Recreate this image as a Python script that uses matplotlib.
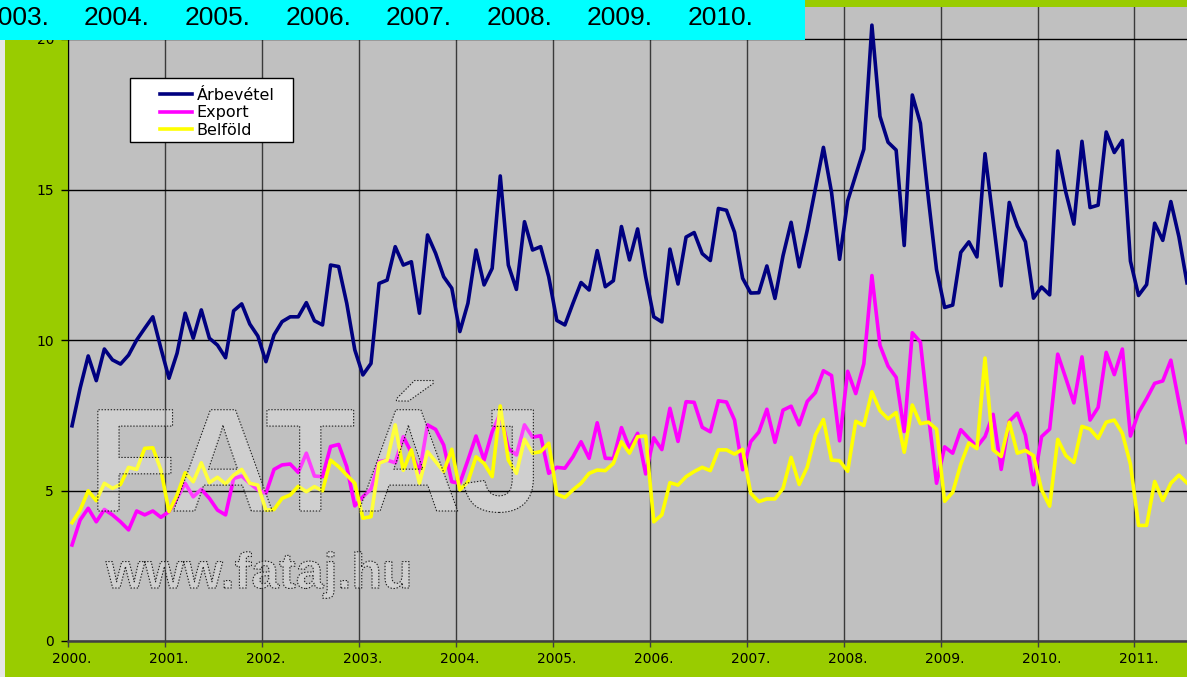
import matplotlib
matplotlib.use('Agg')
import matplotlib.pyplot as plt
from matplotlib import patheffects
from matplotlib.patches import Rectangle
from matplotlib.ticker import FixedLocator, FixedFormatter, NullFormatter
import numpy as np

# Havi adatok, 2000. január - 2011. július (milliárd Ft)
arbevetel = [7.15, 8.40, 9.47, 8.65, 9.70, 9.34, 9.20, 9.50, 10.00, 10.39, 10.77, 9.72,
             8.73, 9.56, 10.89, 10.06, 11.00, 10.06, 9.83, 9.41, 10.97, 11.20, 10.53, 10.13,
             9.28, 10.17, 10.61, 10.77, 10.77, 11.24, 10.64, 10.50, 12.49, 12.44, 11.22, 9.67,
             8.84, 9.22, 11.88, 11.99, 13.10, 12.49, 12.60, 10.89, 13.49, 12.88, 12.10, 11.72,
             10.28, 11.22, 12.99, 11.83, 12.38, 15.45, 12.49, 11.68, 13.93, 12.99, 13.10, 12.10,
             10.65, 10.50, 11.22, 11.91, 11.66, 12.97, 11.77, 11.97, 13.77, 12.66, 13.69, 12.10,
             10.77, 10.60, 13.02, 11.86, 13.42, 13.57, 12.87, 12.64, 14.37, 14.31, 13.58, 12.05,
             11.56, 11.57, 12.46, 11.38, 12.80, 13.91, 12.43, 13.65, 15.03, 16.40, 14.91, 12.68,
             14.62, 15.48, 16.34, 20.46, 17.43, 16.57, 16.31, 13.14, 18.14, 17.20, 14.68, 12.34,
             11.08, 11.16, 12.91, 13.26, 12.76, 16.19, 14.00, 11.80, 14.57, 13.79, 13.26, 11.39,
             11.76, 11.50, 16.28, 14.91, 13.85, 16.60, 14.40, 14.48, 16.91, 16.23, 16.63, 12.62,
             11.48, 11.84, 13.88, 13.31, 14.60, 13.43, 11.90]

export = [3.19, 4.02, 4.41, 3.96, 4.37, 4.19, 3.96, 3.69, 4.32, 4.19, 4.32, 4.11,
          4.30, 4.74, 5.24, 4.79, 5.04, 4.74, 4.35, 4.19, 5.40, 5.48, 5.24, 5.02,
          4.91, 5.70, 5.85, 5.88, 5.60, 6.24, 5.48, 5.46, 6.46, 6.53, 5.79, 4.49,
          4.79, 5.05, 5.96, 6.01, 5.92, 6.79, 6.26, 5.60, 7.18, 7.03, 6.51, 5.29,
          5.24, 6.01, 6.81, 6.01, 6.95, 7.56, 6.40, 6.18, 7.18, 6.77, 6.82, 5.57,
          5.77, 5.74, 6.12, 6.62, 6.07, 7.25, 6.07, 6.06, 7.09, 6.40, 6.90, 5.55,
          6.75, 6.36, 7.73, 6.63, 7.95, 7.93, 7.10, 6.95, 7.98, 7.94, 7.34, 5.69,
          6.62, 6.94, 7.70, 6.60, 7.67, 7.80, 7.18, 7.96, 8.25, 8.98, 8.82, 6.65,
          8.96, 8.22, 9.21, 12.14, 9.82, 9.13, 8.76, 6.96, 10.24, 9.93, 7.50, 5.24,
          6.45, 6.24, 7.02, 6.73, 6.45, 6.79, 7.53, 5.70, 7.30, 7.57, 6.84, 5.19,
          6.79, 7.04, 9.53, 8.73, 7.91, 9.44, 7.34, 7.76, 9.59, 8.85, 9.70, 6.81,
          7.59, 8.05, 8.56, 8.64, 9.33, 7.93, 6.60]

belfold = [3.93, 4.35, 4.99, 4.66, 5.24, 5.07, 5.20, 5.77, 5.70, 6.40, 6.42, 5.68,
           4.30, 4.85, 5.59, 5.29, 5.92, 5.26, 5.44, 5.22, 5.51, 5.70, 5.24, 5.18,
           4.35, 4.37, 4.74, 4.85, 5.14, 4.96, 5.13, 4.99, 6.01, 5.79, 5.51, 5.24,
           4.08, 4.13, 5.91, 6.01, 7.18, 5.67, 6.35, 5.24, 6.29, 5.96, 5.63, 6.37,
           5.02, 5.29, 6.12, 5.90, 5.46, 7.81, 6.01, 5.57, 6.70, 6.24, 6.29, 6.57,
           4.88, 4.77, 5.02, 5.24, 5.57, 5.68, 5.66, 5.90, 6.62, 6.24, 6.79, 6.81,
           3.96, 4.19, 5.26, 5.18, 5.46, 5.63, 5.77, 5.66, 6.35, 6.35, 6.21, 6.37,
           4.91, 4.63, 4.72, 4.72, 5.07, 6.10, 5.20, 5.78, 6.84, 7.36, 6.01, 5.99,
           5.64, 7.30, 7.16, 8.28, 7.65, 7.38, 7.59, 6.27, 7.84, 7.22, 7.27, 7.04,
           4.64, 4.94, 5.87, 6.58, 6.39, 9.40, 6.35, 6.13, 7.27, 6.24, 6.33, 6.16,
           5.02, 4.48, 6.70, 6.16, 5.93, 7.13, 7.04, 6.73, 7.27, 7.34, 6.90, 5.87,
           3.84, 3.84, 5.30, 4.67, 5.24, 5.51, 5.25]

evek = ['2000.', '2001.', '2002.', '2003.', '2004.', '2005.',
        '2006.', '2007.', '2008.', '2009.', '2010.', '2011.']
felso_evek = ['2003.', '2004.', '2005.', '2006.', '2007.', '2008.', '2009.', '2010.']
y_ertekek = [0, 5, 10, 15, 20]

W, H = 1187, 677
ZOLD = '#99CC00'


def fig_xy(x, y):
    # képpont (bal felső sarokból) -> ábra koordináta
    return x / W, 1 - y / H


class PontozottKontur(patheffects.AbstractPathEffect):
    """Pontozott körvonal a vízjel betűihez."""
    def draw_path(self, renderer, gc, tpath, affine, rgbFace=None):
        gc0 = renderer.new_gc()
        gc0.copy_properties(gc)
        gc0.set_foreground('#202020')
        gc0.set_linewidth(0.8)
        gc0.set_dashes(0, [1.0, 1.2])
        renderer.draw_path(gc0, tpath, affine, None)
        gc0.restore()


fig = plt.figure(figsize=(W / 100, H / 100), dpi=100, facecolor=ZOLD)
ax = fig.add_axes([68 / W, 36 / H, (W - 68) / W, 634 / H])
ax.set_facecolor('#C0C0C0')

honap = np.arange(len(arbevetel)) + 0.5
ax.plot(honap, arbevetel, color='#000080', lw=2.6, label='Árbevétel', zorder=3)
ax.plot(honap, export, color='#FF00FF', lw=2.6, label='Export', zorder=3)
ax.plot(honap, belfold, color='#FFFF00', lw=2.6, label='Belföld', zorder=3)

ax.set_xlim(0, 138.5)
ax.set_ylim(0, 634 / 30.1)

ev_hatar = np.arange(len(evek)) * 12
ax.xaxis.set_major_locator(FixedLocator(ev_hatar))
ax.xaxis.set_major_formatter(NullFormatter())
ax.xaxis.set_minor_locator(FixedLocator(ev_hatar + 0.5))
ax.xaxis.set_minor_formatter(FixedFormatter(evek))
ax.tick_params(axis='x', which='major', direction='out', length=4, width=1, color='#404040')
ax.tick_params(axis='x', which='minor', length=0, pad=8, labelsize=10)
ax.set_yticks(y_ertekek)
ax.tick_params(axis='y', direction='out', length=5, width=1, pad=5, labelsize=10)

ax.set_axisbelow(True)
ax.grid(axis='x', which='major', color='#3a3a3a', lw=1)
ax.grid(axis='y', color='black', lw=1)
for s in ['top', 'right']:
    ax.spines[s].set_visible(False)
ax.spines['left'].set_color('black')
ax.spines['bottom'].set_color('#404040')
ax.spines['bottom'].set_linewidth(1.8)

# jelmagyarázat keretben
ax.add_patch(Rectangle(fig_xy(130, 142), 163 / W, 64 / H, transform=fig.transFigure,
                       facecolor='white', edgecolor='black', lw=1, zorder=4, clip_on=False))
ax.legend(loc='upper left', bbox_to_anchor=fig_xy(152, 80), bbox_transform=fig.transFigure,
          frameon=False, borderpad=0, handlelength=2.0, handletextpad=0.3,
          labelspacing=0.15, fontsize=11.5)

# vízjel
kontur = [patheffects.Normal(), PontozottKontur()]
ax.text(*fig_xy(88, 511), 'FATÁJ', transform=fig.transFigure, ha='left', va='baseline',
        fontsize=106, fontweight='bold', family=['Liberation Sans'],
        color=(1, 1, 1, 0.24), path_effects=kontur, zorder=6)
ax.text(*fig_xy(106, 588), 'www.fataj.hu', transform=fig.transFigure, ha='left', va='baseline',
        fontsize=36, fontweight='bold', family=['Liberation Sans'],
        color=(1, 1, 1, 0.24), path_effects=kontur, zorder=6)

# bal szélső világos csík és a felső cián sáv
fig.add_artist(Rectangle((0, 0), 5 / W, 1 - 40 / H, transform=fig.transFigure,
                         facecolor='#E6E6E6', edgecolor='none', zorder=1))
fig.add_artist(Rectangle(fig_xy(0, 40), 805 / W, 40 / H, transform=fig.transFigure,
                         facecolor='#00FFFF', edgecolor='none', zorder=10))
for k, ev in enumerate(felso_evek):
    fig.text(*fig_xy(16.4 + 100.6 * k, 25), ev, ha='center', va='baseline', fontsize=19,
             family=['Liberation Sans'], zorder=11)

fig.savefig('out.png', dpi=100, facecolor=ZOLD)
